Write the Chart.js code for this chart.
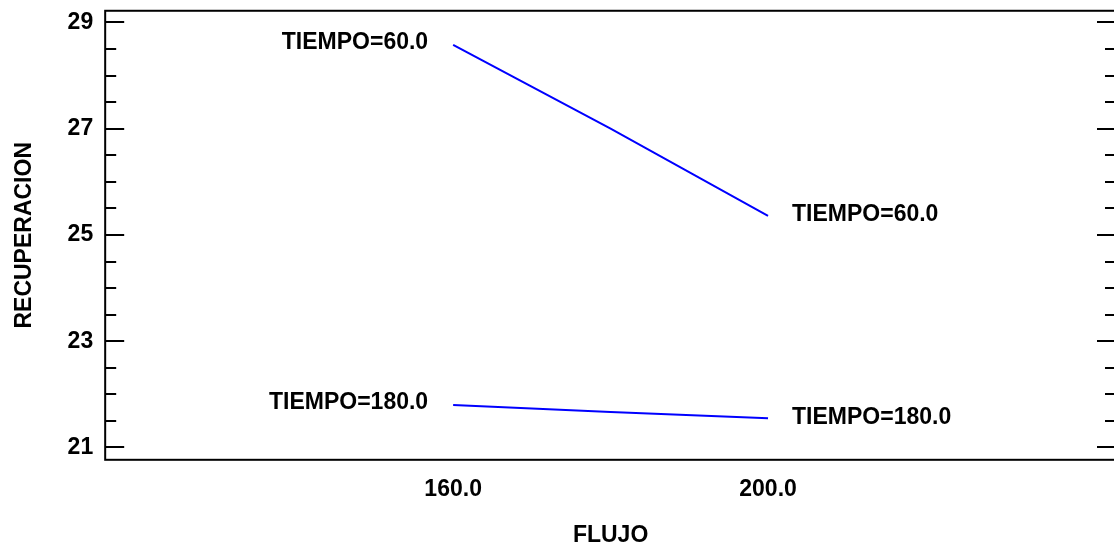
<!DOCTYPE html>
<html>
<head>
<meta charset="utf-8">
<script src="https://cdn.jsdelivr.net/npm/chart.js@4"></script>
<style>
    html, body { margin: 0; padding: 0; overflow: hidden; background: #fff; }
    .wrap { position: absolute; left: 0; top: -11px; width: 1118px; height: 560px; }
</style>
</head>
<body>
<div class="wrap"><canvas id="chart"></canvas></div>
<script>
// valores
const flujo = [160, 180, 200];
const series = ['TIEMPO=60.0', 'TIEMPO=180.0'];
const recup60 = [28.58, 27.0, 25.36];
const recup180 = [21.80, 21.67, 21.55];
const xTicks = [160, 200];
const yTicks = [21, 23, 25, 27, 29];

const font = { family: '"Liberation Sans", Arial, sans-serif', size: 23, weight: 'bold' };

const toPoints = (vals) => flujo.map((f, i) => ({ x: f, y: vals[i] }));

// caja, marcas del eje Y y etiquetas de cada serie
const decor = {
    id: 'decor',
    afterDraw(chart) {
        const ctx = chart.ctx,
            area = chart.chartArea,
            y = chart.scales.y;
        ctx.save();
        ctx.strokeStyle = '#000';
        ctx.lineWidth = 2;
        ctx.strokeRect(area.left, area.top, area.right - area.left, area.bottom - area.top);

        for (let v = yTicks[0]; v <= yTicks[yTicks.length - 1] + 1e-9; v += 0.5) {
            const py = Math.round(y.getPixelForValue(v)),
                len = yTicks.includes(v) ? 19 : 11;
            ctx.beginPath();
            ctx.moveTo(area.left, py);
            ctx.lineTo(area.left + len, py);
            ctx.moveTo(area.right, py);
            ctx.lineTo(area.right - len, py);
            ctx.stroke();
        }

        ctx.fillStyle = '#000';
        ctx.font = `bold ${font.size}px ${font.family}`;
        ctx.textBaseline = 'middle';
        chart.data.datasets.forEach((ds, i) => {
            const meta = chart.getDatasetMeta(i),
                first = meta.data[0],
                last = meta.data[meta.data.length - 1];
            ctx.textAlign = 'right';
            ctx.fillText(ds.label, first.x - 25, first.y - 2);
            ctx.textAlign = 'left';
            ctx.fillText(ds.label, last.x + 24, last.y - 1);
        });
        ctx.restore();
    }
};

new Chart(document.getElementById('chart'), {
    type: 'line',
    data: {
        datasets: [
            { label: series[0], data: toPoints(recup60) },
            { label: series[1], data: toPoints(recup180) }
        ]
    },
    options: {
        responsive: true,
        maintainAspectRatio: false,
        animation: false,
        layout: { padding: { left: 11, top: 0, right: 2, bottom: 0 } },
        elements: {
            line: { borderColor: '#0000ff', borderWidth: 2, tension: 0 },
            point: { radius: 0 }
        },
        scales: {
            x: {
                type: 'linear',
                min: 115.8,
                max: 244.2,
                afterBuildTicks: (axis) => { axis.ticks = xTicks.map(v => ({ value: v })); },
                grid: { display: false, drawTicks: false },
                border: { display: false },
                ticks: {
                    padding: 16,
                    color: '#000',
                    font: font,
                    maxRotation: 0,
                    callback: (v) => Number(v).toFixed(1)
                },
                title: { display: true, text: 'FLUJO', color: '#000', font: font, padding: { top: 2, bottom: 0 } }
            },
            y: {
                min: 20.768,
                max: 29.22,
                afterBuildTicks: (axis) => { axis.ticks = yTicks.map(v => ({ value: v })); },
                grid: { display: false, drawTicks: false },
                border: { display: false },
                ticks: { padding: 12, color: '#000', font: { ...font, lineHeight: 0.85 } },
                title: { display: true, text: 'RECUPERACION', color: '#000', font: font, padding: { top: 0, bottom: 17 } }
            }
        },
        plugins: {
            legend: { display: false },
            tooltip: { enabled: false }
        }
    },
    plugins: [decor]
});
</script>
</body>
</html>
